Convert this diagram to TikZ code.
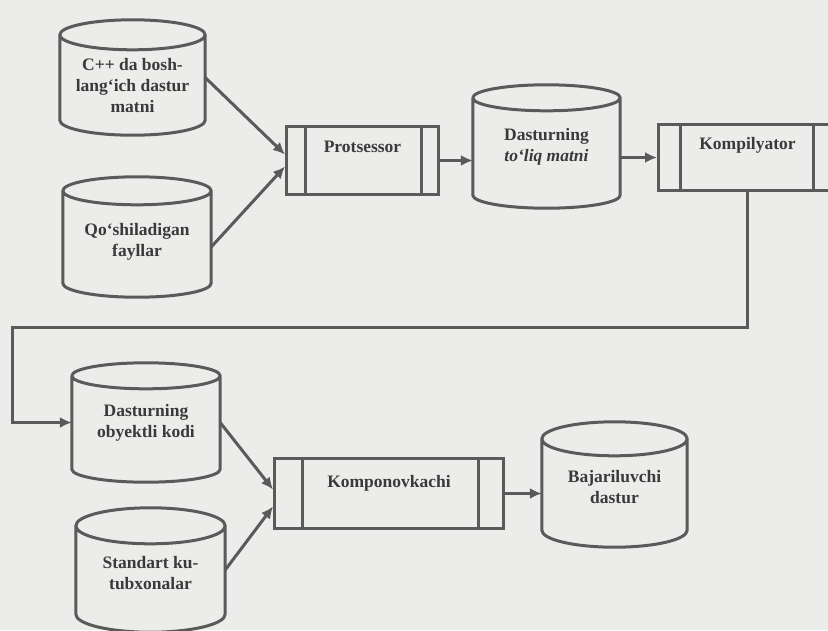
\documentclass[tikz,border=0pt]{standalone}
\usepackage{fontspec}
\setmainfont{Liberation Serif}
\usetikzlibrary{arrows.meta,calc}
\definecolor{bgc}{HTML}{ECECEA}
\definecolor{lnc}{HTML}{5A5A5A}
\definecolor{txc}{HTML}{3A3A3A}
\tikzset{
  ln/.style={draw=lnc, line width=3pt},
  arr/.style={ln, -{Latex[length=12pt,width=11pt]}},
  cylbox/.style={draw=none, inner sep=0pt, align=center, text=txc,
    font=\fontsize{17.5}{21}\selectfont\bfseries},
  procbox/.style={ln, inner sep=0pt, anchor=north west, text=txc,
    font=\fontsize{17.5}{21}\selectfont\bfseries},
}
\newcommand\drawcyl[2]{%
  \draw[ln, line join=round] let \p1=(#1.north west), \p2=(#1.south east),
    \p3=($(#1.north east)-(#1.north west)$) in
    (\x1,\y1-#2pt) -- (\x1,\y2+#2pt)
    arc[start angle=180, end angle=360, x radius=\x3/2, y radius=#2pt]
    -- (\x2,\y1-#2pt)
    ({\x1+\x3/2},\y1-#2pt) ellipse[x radius=\x3/2, y radius=#2pt];}
\newcommand\procbars[3]{%
  \draw[ln] ([xshift=#2pt]#1.north west) -- ([xshift=#2pt]#1.south west);
  \draw[ln] ([xshift=-#3pt]#1.north east) -- ([xshift=-#3pt]#1.south east);}
\begin{document}
\begin{tikzpicture}[x=1pt,y=-1pt]
\fill[bgc] (0,0) rectangle (828,630);
\clip (0,0) rectangle (828,630);

% cylinders
\node[cylbox, minimum width=145pt, minimum height=115pt] (c1) at (132.5,77.5)
  {\rule{0pt}{29pt}C++ da bosh-\\lang‘ich dastur\\matni};
\node[cylbox, minimum width=148pt, minimum height=120pt] (c2) at (137,237)
  {\rule{0pt}{21pt}Qo‘shiladigan\\fayllar};
\node[cylbox, minimum width=147pt, minimum height=123pt] (c3) at (546.5,146.5)
  {Dasturning\\\textit{to‘liq matni}};
\node[cylbox, minimum width=148pt, minimum height=119pt] (c4) at (146,422.5)
  {Dasturning\\obyektli kodi};
\node[cylbox, minimum width=149pt, minimum height=124pt] (c5) at (150.5,570)
  {\rule{0pt}{19pt}Standart ku-\\tubxonalar};
\node[cylbox, minimum width=145pt, minimum height=125pt] (c6) at (614.5,484.5)
  {\rule{0pt}{17pt}Bajariluvchi\\dastur};
\drawcyl{c1}{15}
\drawcyl{c2}{14}
\drawcyl{c3}{13}
\drawcyl{c4}{13}
\drawcyl{c5}{18}
\drawcyl{c6}{17}

% process boxes
\node[procbox, minimum width=152pt, minimum height=68pt, text height=26pt, text depth=42pt]
  (proc) at (285,125) {Protsessor};
\procbars{proc}{20}{19}
\node[procbox, minimum width=178pt, minimum height=66pt, text height=25pt, text depth=41pt]
  (kom) at (657,123) {Kompilyator};
\procbars{kom}{23}{25}
\node[procbox, minimum width=229pt, minimum height=70pt, text height=29pt, text depth=41pt]
  (komp) at (273,457) {Komponovkachi};
\procbars{komp}{29}{27}

% connectors
\coordinate (t2) at (12,327);
\draw[arr] (c1.east) -- ([yshift=6pt]proc.west);
\draw[arr] ([yshift=-10pt]c2.east) -- ([yshift=-6pt]proc.west);
\draw[arr] (proc.east) -- (proc.east -| c3.west);
\draw[arr] (c3.east |- kom.west) -- (kom.west);
\draw[arr] (kom.south) |- (t2) |- (c4.west);
\draw[arr] (c4.east) -- ([yshift=4pt]komp.west);
\draw[arr] (c5.east) -- ([yshift=-13pt]komp.west);
\draw[arr] (komp.east) -- (komp.east -| c6.west);
\end{tikzpicture}
\end{document}
